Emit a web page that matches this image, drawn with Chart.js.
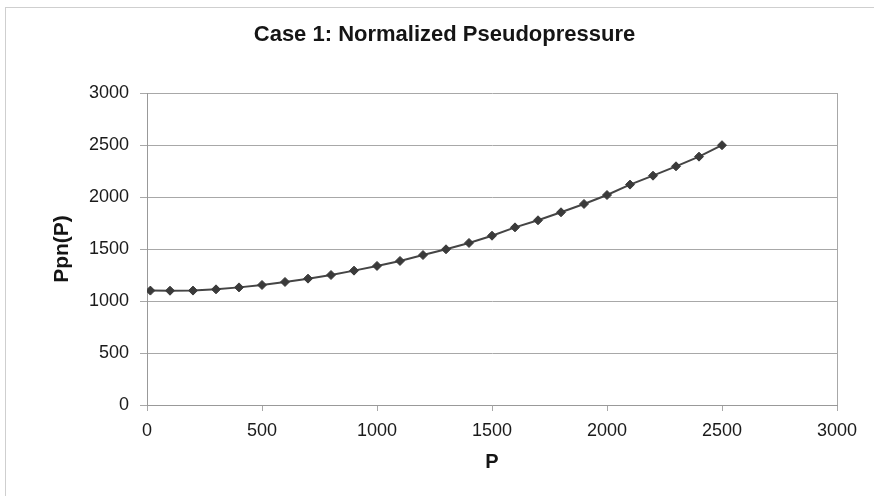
<!DOCTYPE html>
<html>
<head>
<meta charset="utf-8">
<script src="https://cdn.jsdelivr.net/npm/chart.js@4"></script>
<style>
    html, body { margin: 0; padding: 0; background: #fff; }
    #wrap { position: relative; width: 874px; height: 496px; }
    #frame {
        position: absolute; left: 5px; top: 7px; right: -10px; bottom: -10px;
        border-left: 1px solid #cfcfcf; border-top: 1px solid #cfcfcf;
    }
    canvas { position: absolute; left: 0; top: 0; }
</style>
</head>
<body>
<div id="wrap">
    <div id="frame"></div>
    <canvas id="chart" width="874" height="496"></canvas>
</div>
<script>
// pressure values (psia) and normalized pseudopressure
const pressure = [14.7, 100, 200, 300, 400, 500, 600, 700, 800, 900, 1000, 1100, 1200,
    1300, 1400, 1500, 1600, 1700, 1800, 1900, 2000, 2100, 2200, 2300, 2400, 2500];
const ppn = [1100, 1099, 1100, 1112, 1131, 1154, 1183, 1215, 1250, 1292, 1337, 1385, 1442,
    1497, 1558, 1628, 1708, 1776, 1853, 1933, 2019, 2119, 2205, 2295, 2388, 2498];
const xTicks = [0, 500, 1000, 1500, 2000, 2500, 3000];
const yTicks = [0, 500, 1000, 1500, 2000, 2500, 3000];

const font = "'Liberation Sans', Arial, sans-serif";
const gridColor = "#a8a8a8";

function getPoints() {
    return pressure.map((p, i) => ({ x: p, y: ppn[i] }));
}

(function () {
    "use strict";
    const canvas = document.getElementById("chart");
    new Chart(canvas, {
        type: "scatter",
        data: {
            datasets: [
                {
                    data: getPoints(),
                    showLine: true,
                    borderColor: "#454545",
                    borderWidth: 2,
                    pointStyle: "rectRot",
                    pointRadius: 4.5,
                    pointBackgroundColor: "#3a3a3a",
                    pointBorderColor: "#3a3a3a",
                    pointBorderWidth: 1,
                    tension: 0,
                },
            ],
        },
        options: {
            responsive: false,
            animation: false,
            layout: { padding: { left: 52, right: 37, top: 0, bottom: 0 } },
            plugins: {
                legend: { display: false },
                tooltip: { enabled: false },
                title: {
                    display: true,
                    text: "Case 1: Normalized Pseudopressure",
                    color: "#151515",
                    font: { family: font, size: 22, weight: "bold" },
                    padding: { top: 22, bottom: 44.6 },
                },
            },
            scales: {
                x: {
                    type: "linear",
                    min: 0,
                    max: 3000,
                    afterBuildTicks: (s) => { s.ticks = xTicks.map((v) => ({ value: v })); },
                    afterFit: (s) => { s.height = 91; },
                    ticks: {
                        color: "#1a1a1a",
                        font: { family: font, size: 18 },
                        padding: 9,
                        maxRotation: 0,
                        callback: (v) => String(v),
                    },
                    grid: {
                        color: (ctx) => (ctx.tick && ctx.tick.value === 3000 ? gridColor : "transparent"),
                        tickColor: gridColor,
                        tickLength: 6,
                    },
                    border: { display: true, color: "#999" },
                    title: {
                        display: true,
                        text: "P",
                        color: "#151515",
                        font: { family: font, size: 20, weight: "bold" },
                        padding: { top: 0, bottom: 22 },
                    },
                },
                y: {
                    min: 0,
                    max: 3000,
                    afterBuildTicks: (s) => { s.ticks = yTicks.map((v) => ({ value: v })); },
                    afterFit: (s) => { s.width = 95; },
                    ticks: {
                        color: "#1a1a1a",
                        font: { family: font, size: 18 },
                        padding: 11,
                        callback: (v) => String(v),
                    },
                    grid: {
                        color: gridColor,
                        tickColor: gridColor,
                        tickLength: 7,
                    },
                    border: { display: true, color: "#999" },
                    title: {
                        display: true,
                        text: "Ppn(P)",
                        color: "#151515",
                        font: { family: font, size: 21, weight: "bold", lineHeight: 1 },
                        padding: { top: 0, bottom: 0 },
                    },
                },
            },
        },
    });
})();
</script>
</body>
</html>
